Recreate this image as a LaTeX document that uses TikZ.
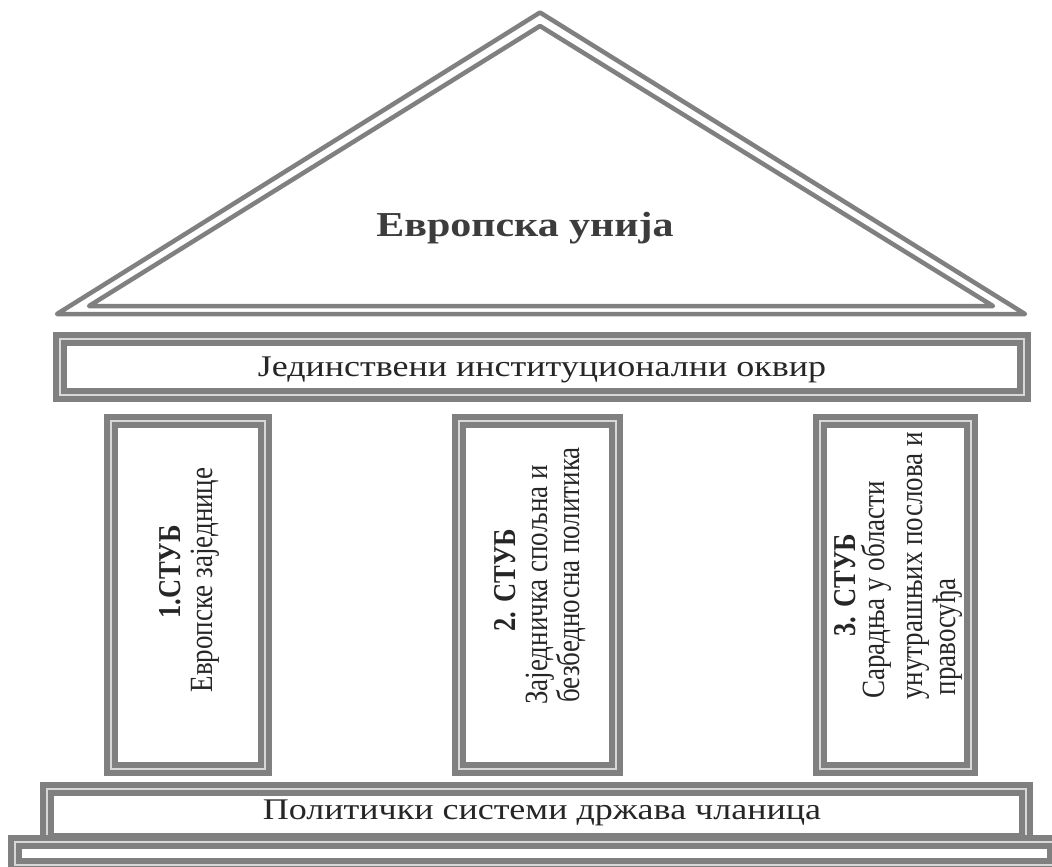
\documentclass[tikz,border=0pt]{standalone}
\usepackage{fontspec}
\setmainfont{Liberation Serif}
\usepackage{graphicx}
\definecolor{framegray}{HTML}{808080}
\definecolor{gapgray}{HTML}{D8D8D8}
\definecolor{titlegray}{HTML}{3C3C3C}
\tikzset{
  frame/.style={draw=framegray, line width=6.2pt, double=gapgray, double distance=1.5pt, inner sep=0pt},
  roof/.style={draw=framegray, line width=4.5pt, line join=round},
  htext/.style={inner sep=0pt, anchor=base, font=\fontsize{30}{36}\selectfont, text=black!85},
  vtext/.style={rotate=90, anchor=base, inner sep=0pt, font=\fontsize{27}{32}\selectfont, text=black!85},
  vtitle/.style={vtext, font=\fontsize{26.5}{32}\selectfont\bfseries},
}
\newcommand{\hs}[1]{\scalebox{1.2}[1]{#1}}
\newcommand{\vs}[1]{\scalebox{1}[1.2]{#1}}
\begin{document}
\begin{tikzpicture}[x=1pt, y=-1pt]
  \useasboundingbox (0,0) rectangle (1052,867);
  \clip (0,0) rectangle (1052,867);
  \fill[white] (0,0) rectangle (1052,867);
  % pediment
  \coordinate (roL) at (57,314);
  \coordinate (roT) at (540,12.5);
  \coordinate (roR) at (1025,314);
  \coordinate (riL) at (89,306);
  \coordinate (riT) at (540,26);
  \coordinate (riR) at (993,306);
  \draw[roof] (roL) -- (roT) -- (roR) -- cycle;
  \draw[roof] (riL) -- (riT) -- (riR) -- cycle;
  \node[inner sep=0pt, anchor=base, text=titlegray, font=\fontsize{35}{42}\selectfont\bfseries] (eu) at (525,236) {\hs{Европска унија}};
  % entablature
  \node[frame, minimum width=964pt, minimum height=56pt] (frame) at (542,367) {};
  \node[htext] (framelabel) at (542,376) {\hs{Јединствени институционални оквир}};
  % pillars
  \node[frame, minimum width=154pt, minimum height=348pt] (p1) at (188,595) {};
  \node[frame, minimum width=157pt, minimum height=348pt] (p2) at (537.5,595) {};
  \node[frame, minimum width=151pt, minimum height=348pt] (p3) at (895.5,595) {};
  \node[vtitle] (p1a) at (180,572) {\vs{1.СТУБ}};
  \node[vtext] (p1b) at (212,580) {\vs{Европске заједнице}};
  \node[vtitle] (p2a) at (515,580) {\vs{2. СТУБ}};
  \node[vtext] (p2b) at (547,585) {\vs{Заједничка спољна и}};
  \node[vtext] (p2c) at (579,575) {\vs{безбедносна политика}};
  \node[vtitle] (p3a) at (855,585) {\vs{3. СТУБ}};
  \node[vtext] (p3b) at (884,590) {\vs{Сарадња у области}};
  \node[vtext] (p3c) at (922,566) {\vs{унутрашњих послова и}};
  \node[vtext] (p3d) at (955,637) {\vs{правосуђа}};
  % base
  \node[frame, minimum width=979pt, minimum height=51pt] (plat) at (536.5,814.5) {};
  \node[frame, minimum width=1039pt, minimum height=23pt] (step) at (534.5,853.5) {};
  \node[htext] (platlabel) at (542,819) {\hs{Политички системи држава чланица}};
\end{tikzpicture}
\end{document}
